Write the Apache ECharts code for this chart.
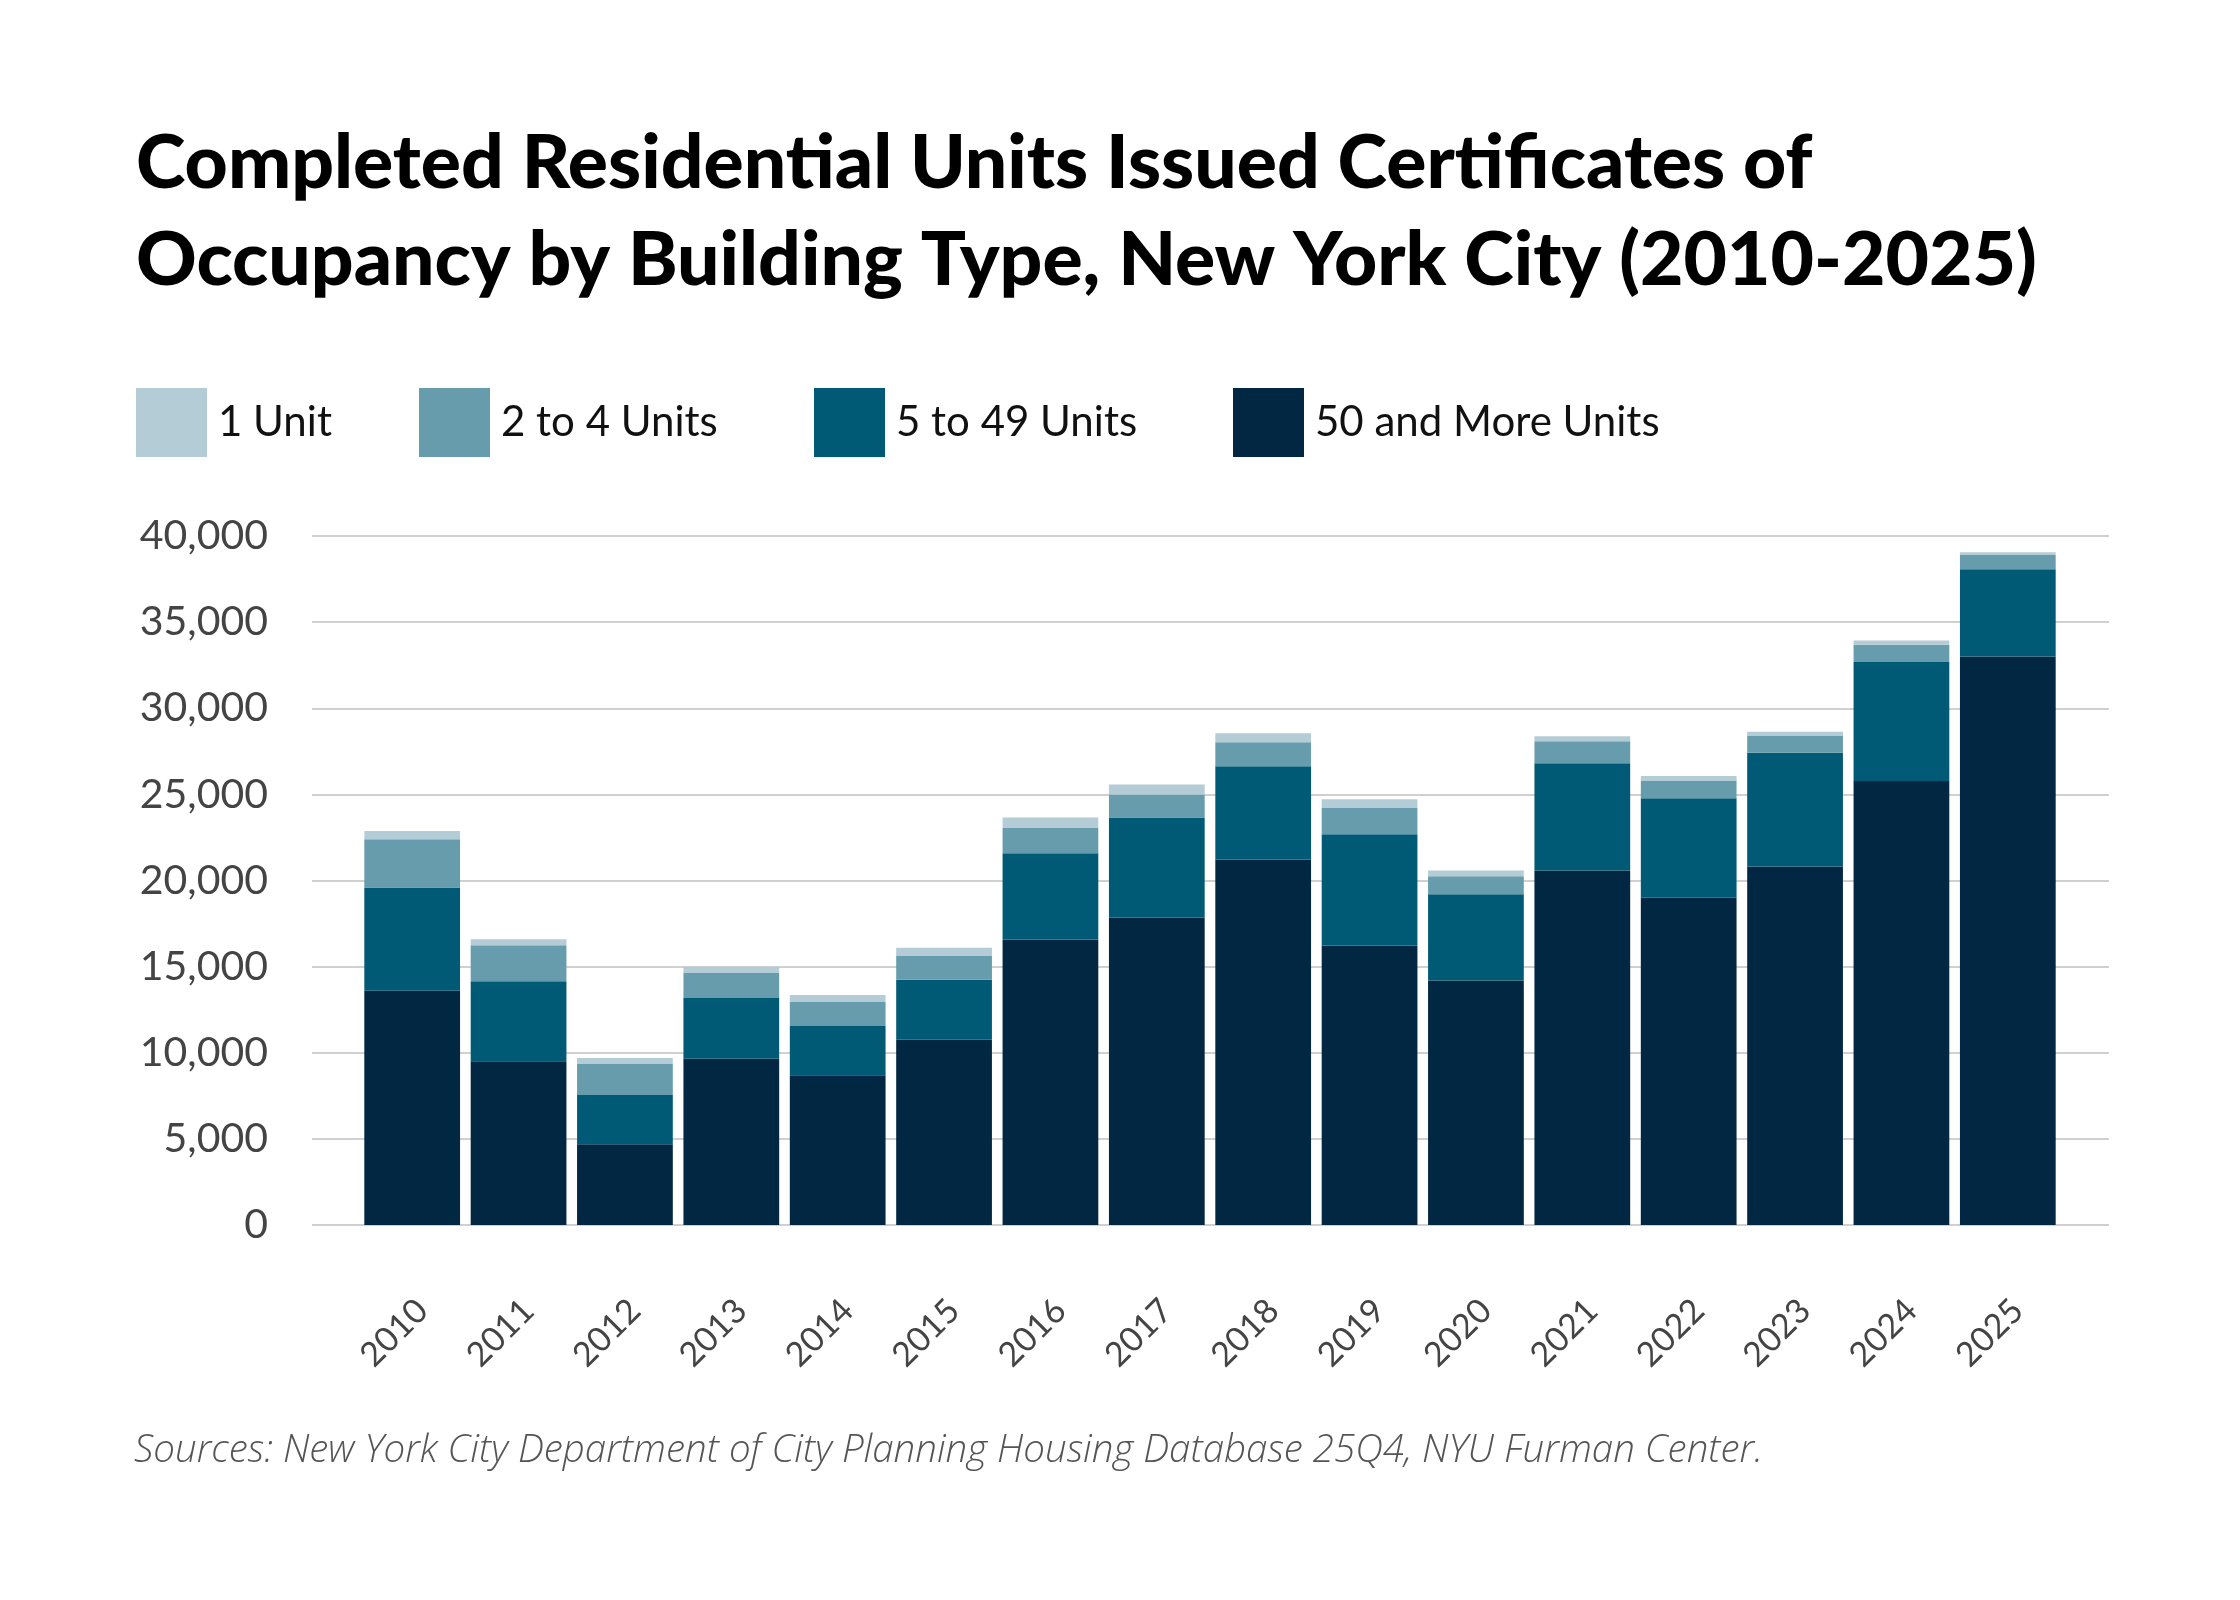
<!DOCTYPE html>
<html>
<head>
<meta charset="utf-8">
<script src="https://cdn.jsdelivr.net/npm/echarts@6/dist/echarts.min.js"></script>
<style>
html,body{margin:0;padding:0;background:#fff;}
#chart{width:2240px;height:1600px;}
</style>
</head>
<body>
<div id="chart"></div>
<script>
const years = ['2010','2011','2012','2013','2014','2015','2016','2017','2018','2019','2020','2021','2022','2023','2024','2025'];
const oneUnit = [470, 350, 350, 370, 400, 460, 580, 580, 520, 480, 340, 280, 290, 240, 240, 160];
const twoToFour = [2800, 2090, 1800, 1450, 1400, 1400, 1500, 1340, 1400, 1560, 1040, 1280, 1000, 980, 1000, 820];
const fiveToFortyNine = [6000, 4650, 2850, 3530, 2850, 3490, 5010, 5810, 5410, 6450, 5010, 6230, 5770, 6590, 6910, 5060];
const fiftyPlus = [13600, 9500, 4690, 9650, 8700, 10750, 16570, 17850, 21220, 16230, 14190, 20580, 19000, 20820, 25780, 33010];
const seriesNames = ['1 Unit', '2 to 4 Units', '5 to 49 Units', '50 and More Units'];
const colors = ['#b3ccd5', '#669cac', '#015a75', '#012742'];
const yTicks = { min: 0, max: 40000, interval: 5000 };

const chart = echarts.init(document.getElementById('chart'));
const legendLefts = [136, 419, 814, 1233];
const legendFont = 'Lato, "Open Sans", sans-serif';

const option = {
  backgroundColor: '#ffffff',
  animation: false,
  color: colors,
  title: {
    text: 'Completed Residential Units Issued Certificates of\nOccupancy by Building Type, New York City (2010-2025)',
    left: 131,
    top: 110,
    textStyle: {
      fontFamily: 'Lato, sans-serif',
      fontWeight: 900,
      fontSize: 75,
      lineHeight: 97,
      color: '#000000'
    }
  },
  legend: seriesNames.map((n, i) => ({
    data: [n],
    left: legendLefts[i],
    top: 388,
    itemWidth: 71,
    itemHeight: 69,
    icon: 'rect',
    selectedMode: false,
    padding: 0,
    textStyle: { fontFamily: legendFont, fontSize: 42, color: '#111111', padding: [4, 0, 0, 6] }
  })),
  grid: [
    { left: 312, right: 131, top: 536, bottom: 375 },
    { left: 359, right: 179, top: 536, bottom: 375 }
  ],
  xAxis: [
    { type: 'category', gridIndex: 0, data: years, show: false },
    {
      type: 'category', gridIndex: 1, data: years,
      axisLine: { show: false }, axisTick: { show: false },
      axisLabel: {
        rotate: 45, margin: 90, fontFamily: legendFont, fontSize: 34, color: '#444444',
        padding: [0, -14, 0, 0]
      }
    }
  ],
  yAxis: [
    {
      type: 'value', gridIndex: 0, min: yTicks.min, max: yTicks.max, interval: yTicks.interval,
      axisLine: { show: false }, axisTick: { show: false },
      splitLine: { lineStyle: { color: '#d0d0d0', width: 2 } },
      axisLabel: {
        margin: 44, fontFamily: legendFont, fontSize: 41, color: '#444444',
        formatter: v => v.toLocaleString('en-US')
      }
    },
    {
      type: 'value', gridIndex: 1, min: yTicks.min, max: yTicks.max, interval: yTicks.interval,
      show: false
    }
  ],
  series: [
    { name: '50 and More Units', data: fiftyPlus, color: colors[3] },
    { name: '5 to 49 Units', data: fiveToFortyNine, color: colors[2] },
    { name: '2 to 4 Units', data: twoToFour, color: colors[1] },
    { name: '1 Unit', data: oneUnit, color: colors[0] }
  ].map(s => ({
    type: 'bar', name: s.name, data: s.data, stack: 'total',
    xAxisIndex: 1, yAxisIndex: 1, barCategoryGap: '10%',
    itemStyle: { color: s.color }
  })),
  graphic: [
    {
      type: 'text', left: 134, top: 1432,
      style: {
        text: 'Sources: New York City Department of City Planning Housing Database 25Q4, NYU Furman Center.',
        font: 'italic 300 38.5px "Open Sans", sans-serif',
        fill: '#555555'
      }
    }
  ]
};
chart.setOption(option);
</script>
</body>
</html>
